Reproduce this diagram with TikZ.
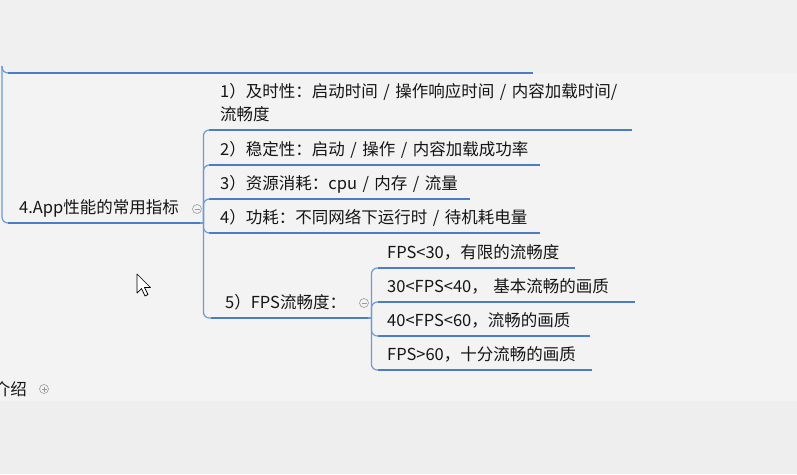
\documentclass[tikz,border=0pt]{standalone}
\usepackage{fontspec}
\setmainfont{Noto Sans CJK SC}
\definecolor{topband}{HTML}{F0F0F0}
\definecolor{canvas}{HTML}{F3F3F4}
\definecolor{lowband}{HTML}{EEEEEE}
\definecolor{lineblue}{HTML}{4A7DC6}
\definecolor{linkblue}{HTML}{6D9AD6}
\definecolor{foldgray}{HTML}{9A9A9A}
\definecolor{ink}{HTML}{151515}
\tikzset{
  topic/.style={anchor=south west, inner xsep=11pt, inner ysep=5pt, text depth=4pt,
    align=left, text=ink, font=\fontsize{16.5}{23}\selectfont},
  uline/.style={lineblue, line width=2.6pt},
  link/.style={linkblue, line width=1.2pt, rounded corners=6pt},
  fold/.style={circle, draw=foldgray, line width=0.6pt, minimum size=9pt, inner sep=0pt},
  foldminus/.style={fold, path picture={\draw[foldgray, line width=0.6pt]
    ([xshift=-2.5pt]path picture bounding box.center) -- ([xshift=2.5pt]path picture bounding box.center);}},
  foldplus/.style={fold, path picture={\draw[foldgray, line width=0.6pt]
    ([xshift=-2.5pt]path picture bounding box.center) -- ([xshift=2.5pt]path picture bounding box.center)
    ([yshift=-2.5pt]path picture bounding box.center) -- ([yshift=2.5pt]path picture bounding box.center);}},
}
\begin{document}
\begin{tikzpicture}[x=1pt, y=-1pt]
\useasboundingbox (0,0) rectangle (797,474);
\clip (0,0) rectangle (797,474);
\fill[topband] (0,0) rectangle (797,474);
\fill[canvas] (0,73) rectangle (797,401);
\fill[lowband] (0,401) rectangle (797,474);

\node[topic, text width=503pt] (prev) at (8,73) {};
\node[topic, text width=170pt] (root) at (8,223) {4.App性能的常用指标};
\node[foldminus] (rootfold) at (197,209) {};

\node[topic, text width=401pt, text depth=27pt] (c1) at (209,130) {\mbox{1）及时性：启动时间 / 操作响应时间 / 内容加载时间/}\\流畅度};
\node[topic, text width=309pt] (c2) at (209,165) {2）稳定性：启动 / 操作 / 内容加载成功率};
\node[topic, text width=239pt] (c3) at (209,199) {3）资源消耗：cpu / 内存 / 流量};
\node[topic, text width=309pt] (c4) at (209,233) {4）功耗：不同网络下运行时 / 待机耗电量};
\node[topic, inner xsep=14pt, text width=129pt] (c5) at (211,318) {5）FPS流畅度：};
\node[foldminus] (fpsfold) at (364,303) {};

\node[topic, inner xsep=9pt, text width=179pt] (g1) at (378,268) {FPS<30，有限的流畅度};
\node[topic, inner xsep=9pt, text width=239pt] (g2) at (378,302) {30<FPS<40， 基本流畅的画质};
\node[topic, inner xsep=9pt, text width=194pt] (g3) at (378,336) {40<FPS<60，流畅的画质};
\node[topic, inner xsep=9pt, text width=196pt] (g4) at (378,370) {FPS>60，十分流畅的画质};

\node[anchor=east, text=ink, font=\fontsize{16.5}{20}\selectfont, inner sep=0pt] (intro) at (27,389) {介绍};
\node[foldplus] (introfold) at (44,389) {};

\foreach \n in {prev,root,c1,c2,c3,c4,c5,g1,g2,g3,g4}
  \draw[uline] (\n.south west) -- (\n.south east);

\coordinate (hub) at (2,66);
\draw[link] (hub) |- (prev.south west);
\draw[link] (hub) |- (root.south west);
\coordinate (rootjoint) at ([xshift=3pt]root.south east);
\draw[link] (root.south east) -- (rootjoint);
\foreach \n in {c1,c2,c3,c4,c5}
  \draw[link] (rootjoint) |- (\n.south west);
\coordinate (fpsjoint) at ([xshift=3pt]c5.south east);
\draw[link] (c5.south east) -- (fpsjoint);
\foreach \n in {g1,g2,g3,g4}
  \draw[link] (fpsjoint) |- (\n.south west);

\draw[fill=white, line width=0.7pt, line join=round] (137,274) -- (137,293) -- (141.5,288.5)
  -- (145,296) -- (148,294.5) -- (144.5,287.5) -- (150.5,287.5) -- cycle;
\end{tikzpicture}
\end{document}
